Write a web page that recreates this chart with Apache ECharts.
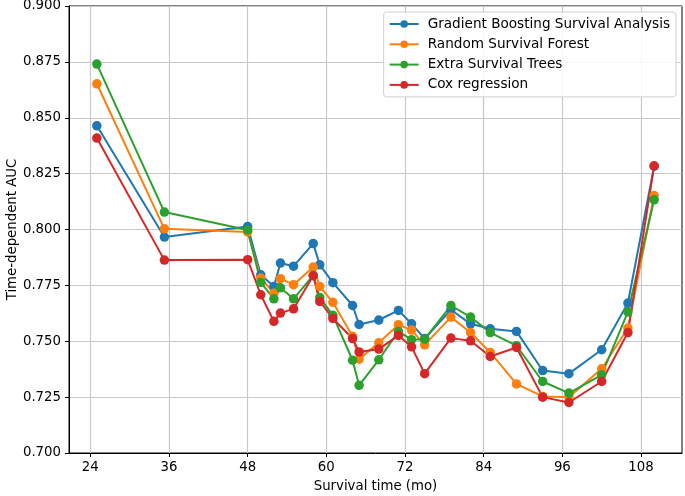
<!DOCTYPE html>
<html>
<head>
<meta charset="utf-8">
<script src="https://cdn.jsdelivr.net/npm/echarts@6/dist/echarts.min.js"></script>
<style>html,body{margin:0;padding:0;background:#fff}#c{width:685px;height:496px}</style>
</head>
<body>
<div id="c"></div>
<script>
const months = [25, 35.3, 48, 50, 52, 53, 55, 58, 59, 61, 64, 65, 68, 71, 73, 75, 79, 82, 85, 89, 93, 97, 102, 106, 110];
const gbsa = [0.8464, 0.7966, 0.8013, 0.7797, 0.7745, 0.7850, 0.7836, 0.7937, 0.7842, 0.7762, 0.7660, 0.7575, 0.7595, 0.7638, 0.7578, 0.7512, 0.7641, 0.7578, 0.7556, 0.7544, 0.7369, 0.7355, 0.7462, 0.7671, 0.8283];
const rsf  = [0.8652, 0.8003, 0.7989, 0.7783, 0.7715, 0.7780, 0.7753, 0.7832, 0.7745, 0.7674, 0.7522, 0.7420, 0.7493, 0.7574, 0.7550, 0.7484, 0.7608, 0.7539, 0.7450, 0.7309, 0.7253, 0.7250, 0.7377, 0.7559, 0.8152];
const est  = [0.8740, 0.8078, 0.7998, 0.7763, 0.7690, 0.7739, 0.7690, 0.7795, 0.7696, 0.7616, 0.7415, 0.7303, 0.7417, 0.7544, 0.7507, 0.7509, 0.7660, 0.7608, 0.7539, 0.7480, 0.7320, 0.7268, 0.7350, 0.7631, 0.8133];
const cox  = [0.8409, 0.7863, 0.7865, 0.7708, 0.7589, 0.7626, 0.7645, 0.7793, 0.7678, 0.7602, 0.7512, 0.7452, 0.7465, 0.7526, 0.7475, 0.7355, 0.7514, 0.7502, 0.7432, 0.7472, 0.7250, 0.7226, 0.7320, 0.7539, 0.8285];
const xTicks = [24, 36, 48, 60, 72, 84, 96, 108];
const names = ['Gradient Boosting Survival Analysis', 'Random Survival Forest', 'Extra Survival Trees', 'Cox regression'];
const colors = ['#1f77b4', '#ff7f0e', '#2ca02c', '#d62728'];
const all = [gbsa, rsf, est, cox];

const chart = echarts.init(document.getElementById('c'));
const font = 'DejaVu Sans';
const fs = 13.3;
chart.setOption({
  animation: false,
  textStyle: { fontFamily: font },
  grid: { left: 69, right: 3, top: 6, bottom: 43, containLabel: false, outerBoundsMode: 'none', show: true, borderColor: '#000', borderWidth: 1, backgroundColor: 'transparent' },
  xAxis: {
    type: 'value', min: 20.75, max: 114.25,
    name: 'Survival time (mo)', nameLocation: 'middle', nameGap: 27, nameMoveOverlap: false,
    nameTextStyle: { fontSize: fs, color: '#000', fontFamily: font },
    axisLine: { show: true, lineStyle: { color: '#000', width: 1 } },
    axisTick: { show: true, length: 4, lineStyle: { color: '#000' }, customValues: xTicks },
    axisLabel: { fontSize: fs, color: '#000', margin: 8.5, fontFamily: font, customValues: xTicks },
    splitLine: { show: true, lineStyle: { color: '#c8c8c8', width: 1.2 }, customValues: xTicks }
  },
  yAxis: {
    type: 'value', min: 0.7, max: 0.9, interval: 0.025,
    name: 'Time-dependent AUC', nameLocation: 'middle', nameGap: 50, nameMoveOverlap: false,
    nameTextStyle: { fontSize: fs, color: '#000', fontFamily: font },
    axisLine: { show: true, lineStyle: { color: '#000', width: 1 } },
    axisTick: { show: true, length: 4, lineStyle: { color: '#000' } },
    axisLabel: { fontSize: fs, color: '#000', margin: 8, fontFamily: font, formatter: v => v.toFixed(3) },
    splitLine: { show: true, lineStyle: { color: '#c8c8c8', width: 1.2 } }
  },
  legend: {
    orient: 'vertical', right: 9, top: 12,
    backgroundColor: 'rgba(255,255,255,0.85)', borderColor: '#d0d0d0', borderWidth: 1, borderRadius: 3,
    padding: [4, 6, 4, 5], itemGap: 4.3, itemWidth: 29, itemHeight: 9.5,
    textStyle: { fontSize: 13.6, lineHeight: 16, color: '#000', fontFamily: font, padding: [0, 0, 0, 4] },
    data: names
  },
  series: all.map((vals, i) => ({
    name: names[i], type: 'line',
    data: months.map((m, j) => [m, vals[j]]),
    symbol: 'circle', symbolSize: 9.5, showSymbol: true,
    itemStyle: { color: colors[i] },
    lineStyle: { color: colors[i], width: 2 }
  }))
});
</script>
</body>
</html>
